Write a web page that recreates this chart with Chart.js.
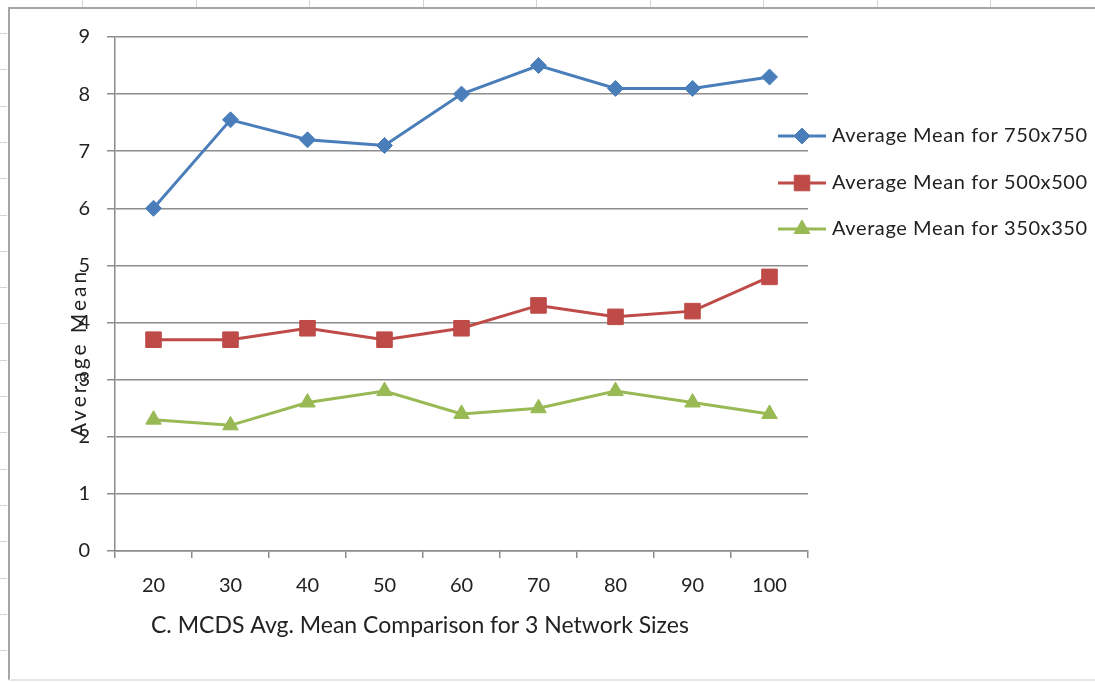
<!DOCTYPE html>
<html>
<head>
<meta charset="utf-8">
<script src="https://cdn.jsdelivr.net/npm/chart.js@4.4.1/dist/chart.umd.min.js"></script>
<style>
  html, body { margin: 0; padding: 0; background: #ffffff; }
  #wrap { position: relative; width: 1095px; height: 682px; }
  canvas { display: block; }
</style>
</head>
<body>
<div id="wrap"><canvas id="chart" width="1095" height="682"></canvas></div>
<script>
// Network node counts along the x axis
const nodeCounts = ['20', '30', '40', '50', '60', '70', '80', '90', '100'];

// Average mean per network area
const mean750 = [6.0, 7.55, 7.2, 7.1, 8.0, 8.5, 8.1, 8.1, 8.3];
const mean500 = [3.7, 3.7, 3.9, 3.7, 3.9, 4.3, 4.1, 4.2, 4.8];
const mean350 = [2.3, 2.2, 2.6, 2.8, 2.4, 2.5, 2.8, 2.6, 2.4];

const seriesNames = [
  'Average Mean for 750x750',
  'Average Mean for 500x500',
  'Average Mean for 350x350'
];

const yAxisTitle = 'Average Mean';
const xAxisTitle = 'C. MCDS Avg. Mean Comparison for 3 Network Sizes';

const FONT = 'Lato, "Open Sans", sans-serif';
const TEXT = '#222222';
const GRID = '#8c8c8c';

// Sheet frame and faint cell marks behind the chart object
const framePlugin = {
  id: 'frame',
  beforeDraw(chart) {
    const c = chart.ctx;
    c.save();
    c.strokeStyle = '#d4d4d4';
    c.lineWidth = 1;
    for (let x = 82; x < 1095; x += 113.5) {
      c.beginPath(); c.moveTo(Math.round(x) + 0.5, 0); c.lineTo(Math.round(x) + 0.5, 7); c.stroke();
    }
    for (let y = 33; y < 682; y += 36.3) {
      c.beginPath(); c.moveTo(0, Math.round(y) + 0.5); c.lineTo(7, Math.round(y) + 0.5); c.stroke();
    }
    c.strokeStyle = '#a6a6a6';
    c.lineWidth = 2;
    c.beginPath();
    c.moveTo(1095, 8); c.lineTo(9, 8); c.lineTo(9, 680);
    c.stroke();
    c.strokeStyle = '#e6e6e6';
    c.beginPath(); c.moveTo(9, 680); c.lineTo(1095, 680); c.stroke();
    c.restore();
  }
};

// Axis titles and the legend with line + marker samples
const textPlugin = {
  id: 'texts',
  afterDraw(chart) {
    const c = chart.ctx;
    c.save();
    c.fillStyle = TEXT;
    c.textBaseline = 'middle';
    // x title
    c.font = '23px ' + FONT;
    c.textAlign = 'left';
    c.fillText(xAxisTitle, 151, 626);
    // y title
    c.save();
    c.font = '21px ' + FONT;
    c.letterSpacing = '3px';
    c.translate(79, 353);
    c.rotate(-Math.PI / 2);
    c.textAlign = 'center';
    c.fillText(yAxisTitle, 0, 0);
    c.restore();
    // legend
    const rows = [136, 183, 229];
    c.font = '20px ' + FONT;
    c.letterSpacing = '0.6px';
    chart.data.datasets.forEach((ds, i) => {
      const y = rows[i];
      c.strokeStyle = ds.borderColor;
      c.lineWidth = 3;
      c.beginPath(); c.moveTo(778, y); c.lineTo(826, y); c.stroke();
      c.fillStyle = ds.pointBackgroundColor;
      c.strokeStyle = ds.pointBorderColor;
      c.lineWidth = 1;
      Chart.helpers.drawPoint(c, {
        pointStyle: ds.pointStyle,
        radius: ds.pointRadius,
        borderWidth: 1
      }, 802, y);
      c.fillStyle = TEXT;
      c.textAlign = 'left';
      c.fillText(seriesNames[i], 832, y);
    });
    c.restore();
  }
};

const ds = (label, data, color, style, r) => ({
  label, data,
  borderColor: color,
  backgroundColor: color,
  pointBackgroundColor: color,
  pointBorderColor: color,
  borderWidth: 3,
  pointStyle: style,
  pointRadius: r,
  pointHoverRadius: r,
  pointBorderWidth: 1,
  tension: 0
});

new Chart(document.getElementById('chart'), {
  type: 'line',
  data: {
    labels: nodeCounts,
    datasets: [
      ds(seriesNames[0], mean750, '#4a7ebb', 'rectRot', 8),
      ds(seriesNames[1], mean500, '#be4b48', 'rect', 11),
      ds(seriesNames[2], mean350, '#98b954', 'triangle', 9)
    ]
  },
  options: {
    responsive: false,
    animation: false,
    layout: { padding: { left: 0, right: 287, top: 37, bottom: 0 } },
    plugins: {
      legend: { display: false },
      tooltip: { enabled: false }
    },
    scales: {
      x: {
        type: 'category',
        offset: true,
        grid: {
          offset: true,
          drawOnChartArea: false,
          drawTicks: true,
          tickLength: 7,
          color: GRID,
          lineWidth: 1.5
        },
        border: { color: GRID, width: 1.5 },
        ticks: {
          color: TEXT,
          font: { family: FONT, size: 20 },
          padding: 16,
          maxRotation: 0
        },
        afterFit(scale) { scale.height = 131; }
      },
      y: {
        min: 0,
        max: 9,
        grid: {
          color: GRID,
          lineWidth: 1.5,
          tickLength: 8
        },
        border: { color: GRID, width: 1.5 },
        ticks: {
          stepSize: 1,
          color: TEXT,
          font: { family: FONT, size: 20 },
          padding: 17
        },
        afterFit(scale) { scale.width = 115; }
      }
    }
  },
  plugins: [framePlugin, textPlugin]
});
</script>
</body>
</html>
